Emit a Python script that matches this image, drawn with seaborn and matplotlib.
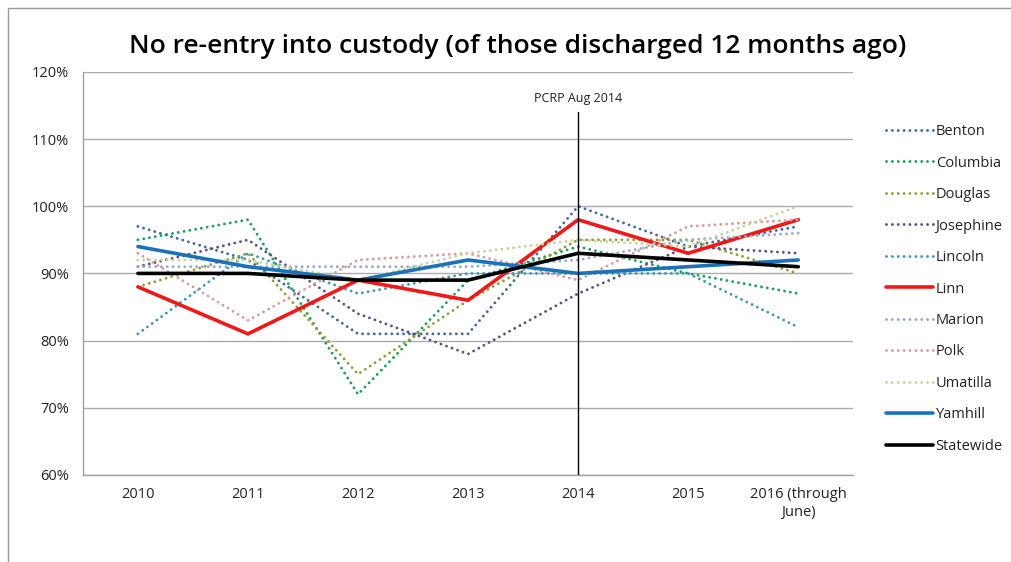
import matplotlib
matplotlib.use("Agg")
import matplotlib.pyplot as plt
import seaborn as sns
import pandas as pd
from matplotlib.patches import Rectangle
from matplotlib.ticker import FixedLocator, PercentFormatter

years = ["2010", "2011", "2012", "2013", "2014", "2015", "2016 (through\nJune)"]

benton = [97, 92, 81, 81, 100, 94, 97]
columbia = [95, 98, 72, 89, 94, 90, 87]
douglas = [88, 93, 75, 86, 95, 95, 90]
josephine = [91, 95, 84, 78, 87, 94, 93]
lincoln = [81, 93, 87, 90, 90, 90, 82]
linn = [88, 81, 89, 86, 98, 93, 98]
marion = [91, 91, 91, 91, 92, 95, 96]
polk = [93, 83, 92, 93, 89, 97, 98]
umatilla = [92, 92, 89, 93, 95, 94, 100]
yamhill = [94, 91, 89, 92, 90, 91, 92]
statewide = [90, 90, 89, 89, 93, 92, 91]

series = [
    ("Benton", benton, "#46679A", "dot"),
    ("Columbia", columbia, "#1E9E5A", "dot"),
    ("Douglas", douglas, "#8D9E3C", "dot"),
    ("Josephine", josephine, "#5A5088", "dot"),
    ("Lincoln", lincoln, "#3E98B0", "dot"),
    ("Linn", linn, "#F01818", "solid"),
    ("Marion", marion, "#96A8CC", "dot"),
    ("Polk", polk, "#D89A9C", "dot"),
    ("Umatilla", umatilla, "#C4D49C", "dot"),
    ("Yamhill", yamhill, "#1C72B8", "solid"),
    ("Statewide", statewide, "black", "solid"),
]

sns.set_style("white")
plt.rcParams["font.family"] = ["Open Sans", "DejaVu Sans"]

fig = plt.figure(figsize=(10.11, 5.62), dpi=100)
ax = fig.add_axes([0.082, 0.155, 0.762, 0.717])

for name, vals, color, kind in series:
    df = pd.DataFrame({"year": years, "value": vals})
    if kind == "solid":
        sns.lineplot(data=df, x="year", y="value", ax=ax, color=color,
                     linewidth=2.6, label=name, sort=False)
    else:
        sns.lineplot(data=df, x="year", y="value", ax=ax, color=color,
                     linewidth=2.1, label=name, sort=False)
        ln = ax.lines[-1]
        # round dots: near-zero dash with round caps
        ln.set_linestyle((0, (0.01, 2.0)))
        ln.set_dash_capstyle("round")

ax.set_xlim(-0.5, len(years) - 0.5)
ax.set_ylim(60, 120)
ax.set_xlabel("")
ax.set_ylabel("")

ax.yaxis.set_major_locator(FixedLocator(range(60, 121, 10)))
ax.yaxis.set_major_formatter(PercentFormatter(decimals=0))
ax.grid(axis="y", color="#ABABAB", linewidth=1.0)
ax.set_axisbelow(True)

ax.xaxis.set_minor_locator(FixedLocator([i - 0.5 for i in range(len(years) + 1)]))
ax.tick_params(axis="x", which="major", length=0, pad=9, labelsize=10.5, colors="#222222")
ax.tick_params(axis="x", which="minor", length=6, color="#A0A0A0", width=1, direction="out")
ax.tick_params(axis="y", which="major", length=6, color="#A0A0A0", width=1, direction="out",
               labelsize=10.5, colors="#222222", pad=4)

for side in ["top", "right"]:
    ax.spines[side].set_visible(False)
for side in ["left", "bottom"]:
    ax.spines[side].set_color("#A0A0A0")
    ax.spines[side].set_linewidth(1.0)

# program start marker
marker_x = years.index("2014")
ax.plot([marker_x, marker_x], [60, 114], color="black", linewidth=1.0, zorder=5)
ax.text(marker_x, 116, "PCRP Aug 2014", ha="center", va="center", fontsize=9, color="#222222")

leg = ax.legend(loc="upper left", bbox_to_anchor=(1.035, 0.885), frameon=False,
                fontsize=10.5, labelspacing=1.13, handlelength=3.2, handletextpad=0.2,
                borderaxespad=0)
for t in leg.get_texts():
    t.set_color("#222222")

fig.text(0.512, 0.918, "No re-entry into custody (of those discharged 12 months ago)",
         ha="center", va="center", fontsize=19, fontweight="semibold", color="black")

fig.patches.append(Rectangle((8 / 1011, -0.1), 1.2, 1 - 8 / 562 + 0.1,
                             transform=fig.transFigure, fill=False,
                             edgecolor="#9A9A9A", linewidth=1.0))

fig.savefig("out.png", dpi=100, facecolor="white")
